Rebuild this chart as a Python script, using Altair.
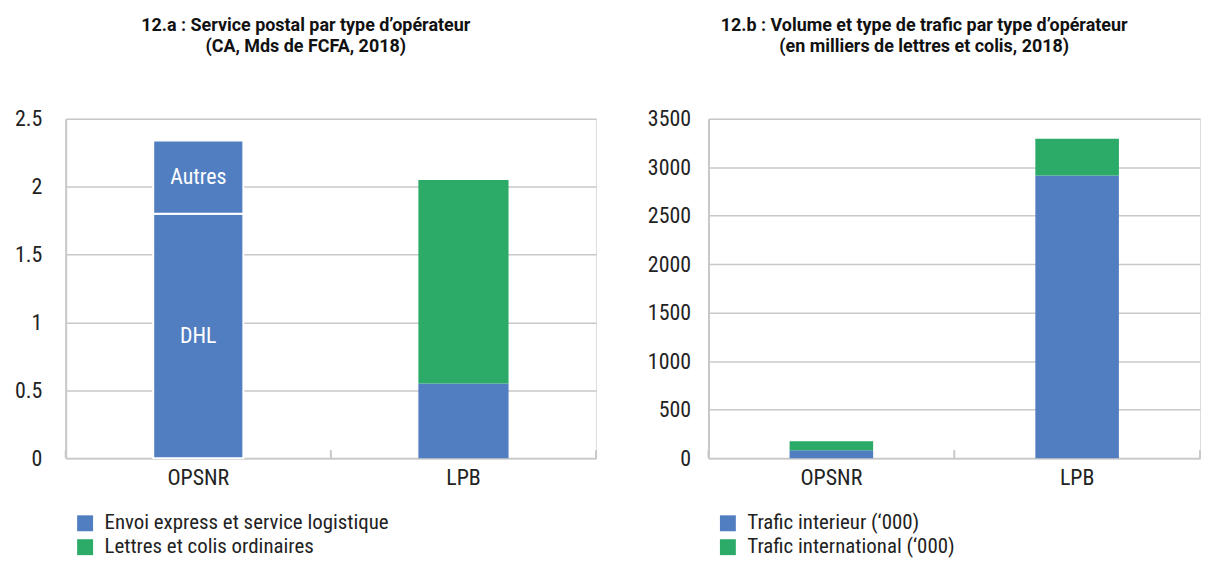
import altair as alt
import pandas as pd

FONT = "Liberation Sans Narrow, Roboto Condensed, DejaVu Sans Condensed, sans-serif"
TFONT = "Roboto, Liberation Sans, sans-serif"
BLUE = "#517EC1"
GREEN = "#2BAB67"
GRID = "#c8c8c8"

operators = ["OPSNR", "LPB"]

# Chart 12.a (CA, Mds de FCFA, 2018)
a_ops = ["OPSNR", "OPSNR", "LPB", "LPB"]
a_types = ["Envoi express et service logistique", "Envoi express et service logistique",
           "Envoi express et service logistique", "Lettres et colis ordinaires"]
a_segments = ["DHL", "Autres", "", ""]
a_values = [1.80, 0.54, 0.55, 1.50]
a_order = [0, 1, 0, 1]
a_legend = ["Envoi express et service logistique", "Lettres et colis ordinaires"]
a_ticks = [0, 0.5, 1, 1.5, 2, 2.5]

# Chart 12.b (milliers de lettres et colis, 2018)
b_ops = ["OPSNR", "OPSNR", "LPB", "LPB"]
b_types = ["Trafic interieur (‘000)", "Trafic international (‘000)",
           "Trafic interieur (‘000)", "Trafic international (‘000)"]
b_values = [80, 95, 2915, 380]
b_order = [0, 1, 0, 1]
b_legend = ["Trafic interieur (‘000)", "Trafic international (‘000)"]
b_ticks = [0, 500, 1000, 1500, 2000, 2500, 3000, 3500]

df_a = pd.DataFrame({"op": a_ops, "type": a_types, "seg": a_segments, "value": a_values, "order": a_order})
df_b = pd.DataFrame({"op": b_ops, "type": b_types, "seg": ["", "", "", ""], "value": b_values, "order": b_order})
df_ops = pd.DataFrame({"op": operators})

H = 341


def panel(df, legend_dom, ticks, ymax, fmt, title_lines, width, label_pad, with_text):
    xenc = alt.X("op:N", sort=operators, title=None,
                 scale=alt.Scale(paddingInner=0, paddingOuter=0),
                 axis=alt.Axis(labelAngle=0, ticks=False, domainColor=GRID, domainWidth=2,
                               labelFontSize=22, labelPadding=10, labelColor="#222",
                               labelFont=FONT))
    bars = alt.Chart(df).mark_bar(width=alt.RelativeBandSize(0.34), stroke="white").encode(
        x=xenc,
        y=alt.Y("value:Q", stack="zero", title=None,
                scale=alt.Scale(domain=[0, ymax], nice=False),
                axis=alt.Axis(values=ticks, format=fmt, ticks=False, domainColor=GRID,
                              domainWidth=2, gridColor=GRID, gridWidth=1.5,
                              labelFontSize=22, labelPadding=label_pad, labelColor="#222",
                              labelFont=FONT)),
        color=alt.Color("type:N", title=None,
                        scale=alt.Scale(domain=legend_dom, range=[BLUE, GREEN]),
                        legend=alt.Legend(orient="none", legendX=9, legendY=H + 55,
                                          symbolType="square", symbolSize=256,
                                          symbolStrokeWidth=0, labelFontSize=21,
                                          labelFont=FONT, labelColor="#222",
                                          labelOffset=9, rowPadding=2, padding=0,
                                          labelLimit=0, direction="vertical")),
        order=alt.Order("order:Q"),
        strokeWidth=alt.condition("datum.seg != ''", alt.value(2), alt.value(0)),
    )
    tick_rules = alt.Chart(df_ops).mark_rule(color=GRID, strokeWidth=2).encode(
        x=alt.X("op:N", sort=operators, bandPosition=0),
        y=alt.value(H), y2=alt.value(H - 8),
    )
    end_rule = alt.Chart(df_ops.head(1)).mark_rule(color=GRID, strokeWidth=2).encode(
        x=alt.value(width), y=alt.value(H), y2=alt.value(H - 8),
    )
    layers = [bars, tick_rules, end_rule]
    if with_text:
        text = alt.Chart(df).transform_stack(
            stack="value", groupby=["op"], as_=["v0", "v1"],
            sort=[alt.SortField("order", order="ascending")]
        ).transform_filter("datum.seg != ''").transform_calculate(
            mid="(datum.v0 + datum.v1) / 2"
        ).mark_text(color="white", fontSize=22, font=FONT).encode(
            x=alt.X("op:N", sort=operators),
            y=alt.Y("mid:Q"),
            text="seg:N",
        )
        layers.append(text)
    return alt.layer(*layers).properties(
        width=width, height=H,
        title=alt.TitleParams(title_lines, fontSize=18, fontWeight="bold", font=TFONT,
                              anchor="middle", frame="bounds", offset=52, lineHeight=21,
                              color="#111"),
    )


left = panel(df_a, a_legend, a_ticks, 2.5, "~g",
             ["12.a : Service postal par type d’opérateur", "(CA, Mds de FCFA, 2018)"],
             533, 24, True)
right = panel(df_b, b_legend, b_ticks, 3500, "d",
              ["12.b : Volume et type de trafic par type d’opérateur",
               "(en milliers de lettres et colis, 2018)"],
              494, 18, False)

chart = alt.hconcat(left, right, spacing=49).resolve_scale(color="independent").properties(
    padding={"left": 5, "top": 7, "right": 0, "bottom": 0}
).configure_view(stroke=None).configure(font=FONT)

chart.save("out.html", embed_options={"renderer": "svg", "actions": False})
